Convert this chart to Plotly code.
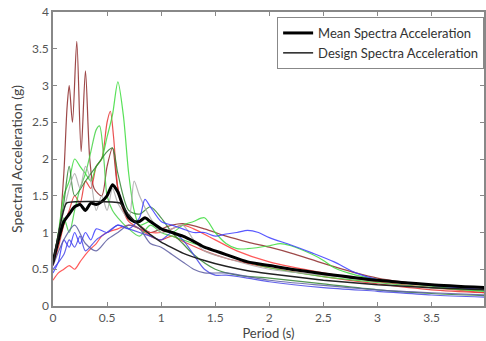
import plotly.graph_objects as go

# ---- data (period in s, spectral acceleration in g) ----
brown_T = [0, 0.05, 0.1, 0.13, 0.15, 0.18, 0.22, 0.26, 0.3, 0.34, 0.38, 0.45, 0.5, 0.55, 0.6, 0.7, 0.8, 0.9, 1.0, 1.1, 1.2, 1.4, 1.6, 1.8, 2.0, 2.2, 2.5, 2.8, 3.0, 3.5, 4.0]
brown_SA = [0.55, 0.9, 1.8, 2.7, 3.0, 2.5, 3.6, 2.1, 3.2, 2.0, 1.6, 1.5, 1.9, 2.15, 1.6, 1.2, 1.1, 1.0, 1.05, 1.1, 1.12, 1.05, 0.95, 0.87, 0.8, 0.72, 0.58, 0.45, 0.38, 0.28, 0.22]

redlow_T = [0, 0.05, 0.1, 0.15, 0.2, 0.25, 0.3, 0.35, 0.4, 0.45, 0.5, 0.6, 0.7, 0.8, 0.9, 1.0, 1.1, 1.2, 1.3, 1.5, 1.7, 2.0, 2.5, 3.0, 3.5, 4.0]
redlow_SA = [0.35, 0.45, 0.5, 0.55, 0.5, 0.6, 0.7, 0.78, 0.85, 0.95, 1.0, 1.05, 1.1, 1.05, 1.0, 1.0, 1.05, 1.1, 1.05, 0.9, 0.75, 0.6, 0.45, 0.33, 0.25, 0.18]

redhigh_T = [0, 0.05, 0.1, 0.15, 0.2, 0.25, 0.3, 0.35, 0.4, 0.45, 0.5, 0.53, 0.56, 0.6, 0.65, 0.7, 0.8, 0.9, 1.0, 1.1, 1.2, 1.4, 1.6, 1.8, 2.0, 2.5, 3.0, 3.5, 4.0]
redhigh_SA = [0.55, 0.8, 1.1, 1.3, 1.5, 1.4, 1.7, 1.6, 1.9, 2.0, 2.5, 2.65, 2.3, 1.6, 1.3, 1.15, 1.05, 0.95, 0.9, 0.95, 0.88, 0.75, 0.65, 0.58, 0.52, 0.4, 0.3, 0.22, 0.18]

green1_T = [0, 0.05, 0.1, 0.15, 0.2, 0.25, 0.3, 0.35, 0.4, 0.45, 0.5, 0.55, 0.6, 0.65, 0.7, 0.75, 0.8, 0.9, 1.0, 1.1, 1.2, 1.3, 1.4, 1.5, 1.6, 1.7, 1.8, 2.0, 2.1, 2.2, 2.4, 2.5, 2.6, 2.8, 3.0, 3.5, 4.0]
green1_SA = [0.6, 1.0, 1.5, 1.7, 2.0, 1.9, 1.8, 1.7, 1.9, 2.0, 2.3, 2.6, 3.05, 2.6, 1.8, 1.3, 1.1, 1.15, 1.05, 1.0, 1.1, 1.15, 1.2, 1.0, 0.85, 0.78, 0.78, 0.82, 0.85, 0.82, 0.7, 0.62, 0.52, 0.42, 0.36, 0.27, 0.2]

green2_T = [0, 0.05, 0.1, 0.15, 0.2, 0.25, 0.3, 0.35, 0.4, 0.43, 0.47, 0.5, 0.55, 0.6, 0.7, 0.8, 0.9, 1.0, 1.1, 1.2, 1.4, 1.6, 1.8, 2.0, 2.5, 3.0, 3.5, 4.0]
green2_SA = [0.6, 0.9, 1.2, 1.0, 1.3, 1.6, 1.8, 2.1, 2.4, 2.45, 2.0, 1.5, 1.3, 1.2, 1.05, 0.95, 1.1, 1.0, 0.95, 0.9, 0.8, 0.7, 0.6, 0.52, 0.4, 0.32, 0.25, 0.2]

dkgreen_T = [0, 0.1, 0.15, 0.2, 0.3, 0.4, 0.5, 0.55, 0.6, 0.7, 0.8, 0.9, 1.0, 1.1, 1.2, 1.3, 1.5, 1.7, 2.0, 2.5, 3.0, 3.5, 4.0]
dkgreen_SA = [0.6, 1.4, 1.9, 1.5, 1.7, 1.9, 2.1, 2.15, 1.8, 1.3, 1.25, 1.35, 1.2, 1.0, 0.85, 0.7, 0.5, 0.42, 0.38, 0.3, 0.22, 0.17, 0.14]

gray_T = [0, 0.1, 0.2, 0.25, 0.3, 0.35, 0.4, 0.45, 0.5, 0.55, 0.6, 0.7, 0.75, 0.8, 0.9, 1.0, 1.1, 1.2, 1.3, 1.4, 1.6, 2.0, 2.5, 3.0, 3.5, 4.0]
gray_SA = [0.6, 1.3, 1.8, 1.6, 1.9, 1.7, 1.3, 1.5, 1.3, 1.6, 1.4, 1.2, 1.7, 1.5, 1.2, 1.0, 1.05, 1.1, 0.9, 0.75, 0.65, 0.5, 0.42, 0.35, 0.28, 0.24]

blue1_T = [0, 0.05, 0.1, 0.15, 0.2, 0.25, 0.3, 0.35, 0.4, 0.5, 0.6, 0.7, 0.8, 0.85, 0.9, 1.0, 1.1, 1.2, 1.3, 1.4, 1.5, 1.6, 1.7, 1.8, 1.9, 2.0, 2.2, 2.4, 2.6, 2.8, 3.0, 3.5, 4.0]
blue1_SA = [0.45, 0.6, 0.9, 0.8, 1.0, 0.85, 1.0, 0.9, 1.05, 1.0, 1.1, 1.05, 1.2, 1.45, 1.35, 1.15, 1.1, 1.05, 1.0, 1.0, 0.95, 0.98, 1.0, 1.03, 1.0, 0.93, 0.83, 0.72, 0.6, 0.45, 0.36, 0.28, 0.22]

blue2_T = [0, 0.1, 0.15, 0.2, 0.25, 0.3, 0.4, 0.5, 0.6, 0.7, 0.8, 0.9, 1.0, 1.1, 1.2, 1.3, 1.4, 1.5, 1.6, 1.8, 2.0, 2.5, 3.0, 3.5, 4.0]
blue2_SA = [0.5, 0.7, 0.9, 0.8, 0.95, 0.75, 0.9, 1.0, 1.1, 1.05, 1.0, 0.95, 0.9, 1.0, 0.9, 0.7, 0.5, 0.42, 0.42, 0.38, 0.33, 0.25, 0.2, 0.15, 0.12]

slate_T = [0, 0.1, 0.2, 0.3, 0.4, 0.5, 0.6, 0.7, 0.8, 0.9, 1.0, 1.1, 1.2, 1.3, 1.4, 1.6, 1.8, 2.0, 2.5, 3.0, 3.5, 4.0]
slate_SA = [0.55, 0.9, 1.1, 0.85, 0.75, 0.9, 1.0, 1.1, 1.05, 0.85, 0.8, 0.7, 0.6, 0.5, 0.45, 0.45, 0.4, 0.35, 0.28, 0.22, 0.18, 0.15]

mean_T = [0, 0.05, 0.1, 0.15, 0.2, 0.25, 0.3, 0.35, 0.4, 0.45, 0.5, 0.55, 0.6, 0.65, 0.7, 0.75, 0.8, 0.85, 0.9, 1.0, 1.1, 1.2, 1.3, 1.4, 1.5, 1.6, 1.8, 2.0, 2.2, 2.5, 3.0, 3.5, 4.0]
mean_SA = [0.6, 0.9, 1.15, 1.25, 1.35, 1.38, 1.3, 1.4, 1.38, 1.42, 1.5, 1.65, 1.55, 1.35, 1.2, 1.15, 1.15, 1.2, 1.15, 1.05, 1.0, 0.95, 0.88, 0.8, 0.75, 0.7, 0.6, 0.55, 0.5, 0.44, 0.35, 0.29, 0.25]

design_T = [0, 0.125, 0.62, 0.7, 0.8, 0.9, 1.0, 1.2, 1.4, 1.6, 1.8, 2.0, 2.5, 3.0, 3.5, 4.0]
design_SA = [0.56, 1.4, 1.4, 1.24, 1.09, 0.97, 0.87, 0.72, 0.62, 0.54, 0.48, 0.44, 0.35, 0.29, 0.25, 0.22]

x_ticks = [0, 0.5, 1, 1.5, 2, 2.5, 3, 3.5]
x_tick_labels = ["0", "0.5", "1", "1.5", "2", "2.5", "3", "3.5"]
y_ticks = [0, 0.5, 1, 1.5, 2, 2.5, 3, 3.5, 4]
y_tick_labels = ["0", "0.5", "1", "1.5", "2", "2.5", "3", "3.5", "4"]

records = [
    (brown_T, brown_SA, "rgba(140,40,40,0.85)"),
    (redlow_T, redlow_SA, "rgba(255,60,60,0.85)"),
    (redhigh_T, redhigh_SA, "rgba(230,50,50,0.85)"),
    (green1_T, green1_SA, "rgba(60,220,60,0.85)"),
    (green2_T, green2_SA, "rgba(70,210,70,0.85)"),
    (dkgreen_T, dkgreen_SA, "rgba(50,130,50,0.85)"),
    (gray_T, gray_SA, "rgba(170,170,170,0.85)"),
    (blue1_T, blue1_SA, "rgba(60,60,255,0.85)"),
    (blue2_T, blue2_SA, "rgba(70,70,230,0.85)"),
    (slate_T, slate_SA, "rgba(90,90,160,0.85)"),
]

fig = go.Figure()
for T, SA, col in records:
    fig.add_trace(go.Scatter(x=T, y=SA, mode="lines", line=dict(color=col, width=1.2, shape="spline", smoothing=0.8),
                             showlegend=False, hoverinfo="skip"))

fig.add_trace(go.Scatter(x=mean_T, y=mean_SA, mode="lines", name="Mean Spectra Acceleration",
                         line=dict(color="black", width=3, shape="spline", smoothing=0.6)))
fig.add_trace(go.Scatter(x=design_T, y=design_SA, mode="lines", name="Design Spectra Acceleration",
                         line=dict(color="#222222", width=1.5, shape="spline", smoothing=0.3)))

axis_common = dict(showline=True, linecolor="#888888", linewidth=1.5, mirror="ticks", ticks="inside",
                   ticklen=4, tickcolor="#888888", showgrid=False, zeroline=False,
                   tickfont=dict(family="Lato", size=12, color="#555555"))

fig.update_layout(
    width=486, height=341,
    margin=dict(l=53, r=0, t=12, b=35),
    paper_bgcolor="white", plot_bgcolor="white",
    xaxis=dict(range=[0, 3.985], tickvals=x_ticks, ticktext=x_tick_labels,
               title=dict(text="Period (s)", font=dict(family="Lato", size=13, color="#444444"), standoff=6),
               **axis_common),
    yaxis=dict(range=[0, 4], tickvals=y_ticks, ticktext=y_tick_labels,
               title=dict(text="Spectral Acceleration (g)", font=dict(family="Lato", size=14, color="#444444"), standoff=6),
               **axis_common),
    legend=dict(x=0.52, y=0.983, xanchor="left", yanchor="top", bgcolor="white",
                bordercolor="#888888", borderwidth=1, font=dict(family="Lato", size=13, color="#333333"),
                tracegroupgap=0, itemwidth=30),
)

fig.write_html("out.html")
